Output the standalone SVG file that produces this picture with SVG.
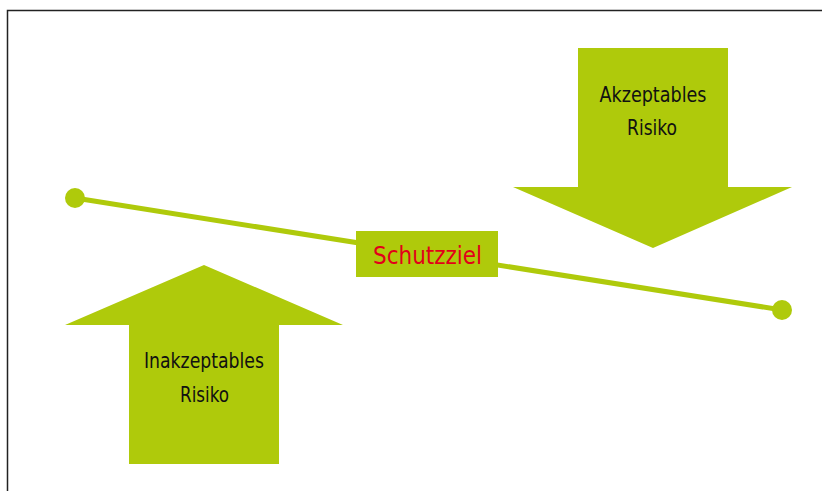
<svg xmlns="http://www.w3.org/2000/svg" width="822" height="491" viewBox="0 0 822 491">
<style>
.g{fill:#afca0b}
.t{font-family:"DejaVu Sans Condensed","Liberation Sans",sans-serif;font-size:21px;fill:#111;text-anchor:middle}
.r{font-family:"DejaVu Sans Condensed","Liberation Sans",sans-serif;font-size:25px;fill:#e2001a;text-anchor:middle}
</style>
<rect x="7.5" y="10.5" width="830" height="500" fill="#fff" stroke="#222" stroke-width="1.5"/>
<g id="connectors">
<line x1="75" y1="198" x2="782" y2="310" stroke="#afca0b" stroke-width="5"/>
<circle class="g" cx="75" cy="198" r="10"/>
<circle class="g" cx="782" cy="310" r="10"/>
</g>
<g id="akzeptabel">
<polygon class="g" points="578,48 728,48 728,187 792,187 653,248 513,187 578,187"/>
<text class="t" x="653" y="102" textLength="107" lengthAdjust="spacingAndGlyphs">Akzeptables</text>
<text class="t" x="652" y="135" textLength="50" lengthAdjust="spacingAndGlyphs">Risiko</text>
</g>
<g id="inakzeptabel">
<polygon class="g" points="204,265 343,325 279,325 279,464 129,464 129,325 65,325"/>
<text class="t" x="204" y="368" textLength="120" lengthAdjust="spacingAndGlyphs">Inakzeptables</text>
<text class="t" x="204.5" y="402" textLength="49" lengthAdjust="spacingAndGlyphs">Risiko</text>
</g>
<g id="schutzziel">
<rect class="g" x="356" y="231" width="142" height="46"/>
<text class="r" x="427.5" y="264" textLength="109" lengthAdjust="spacingAndGlyphs">Schutzziel</text>
</g>
</svg>
